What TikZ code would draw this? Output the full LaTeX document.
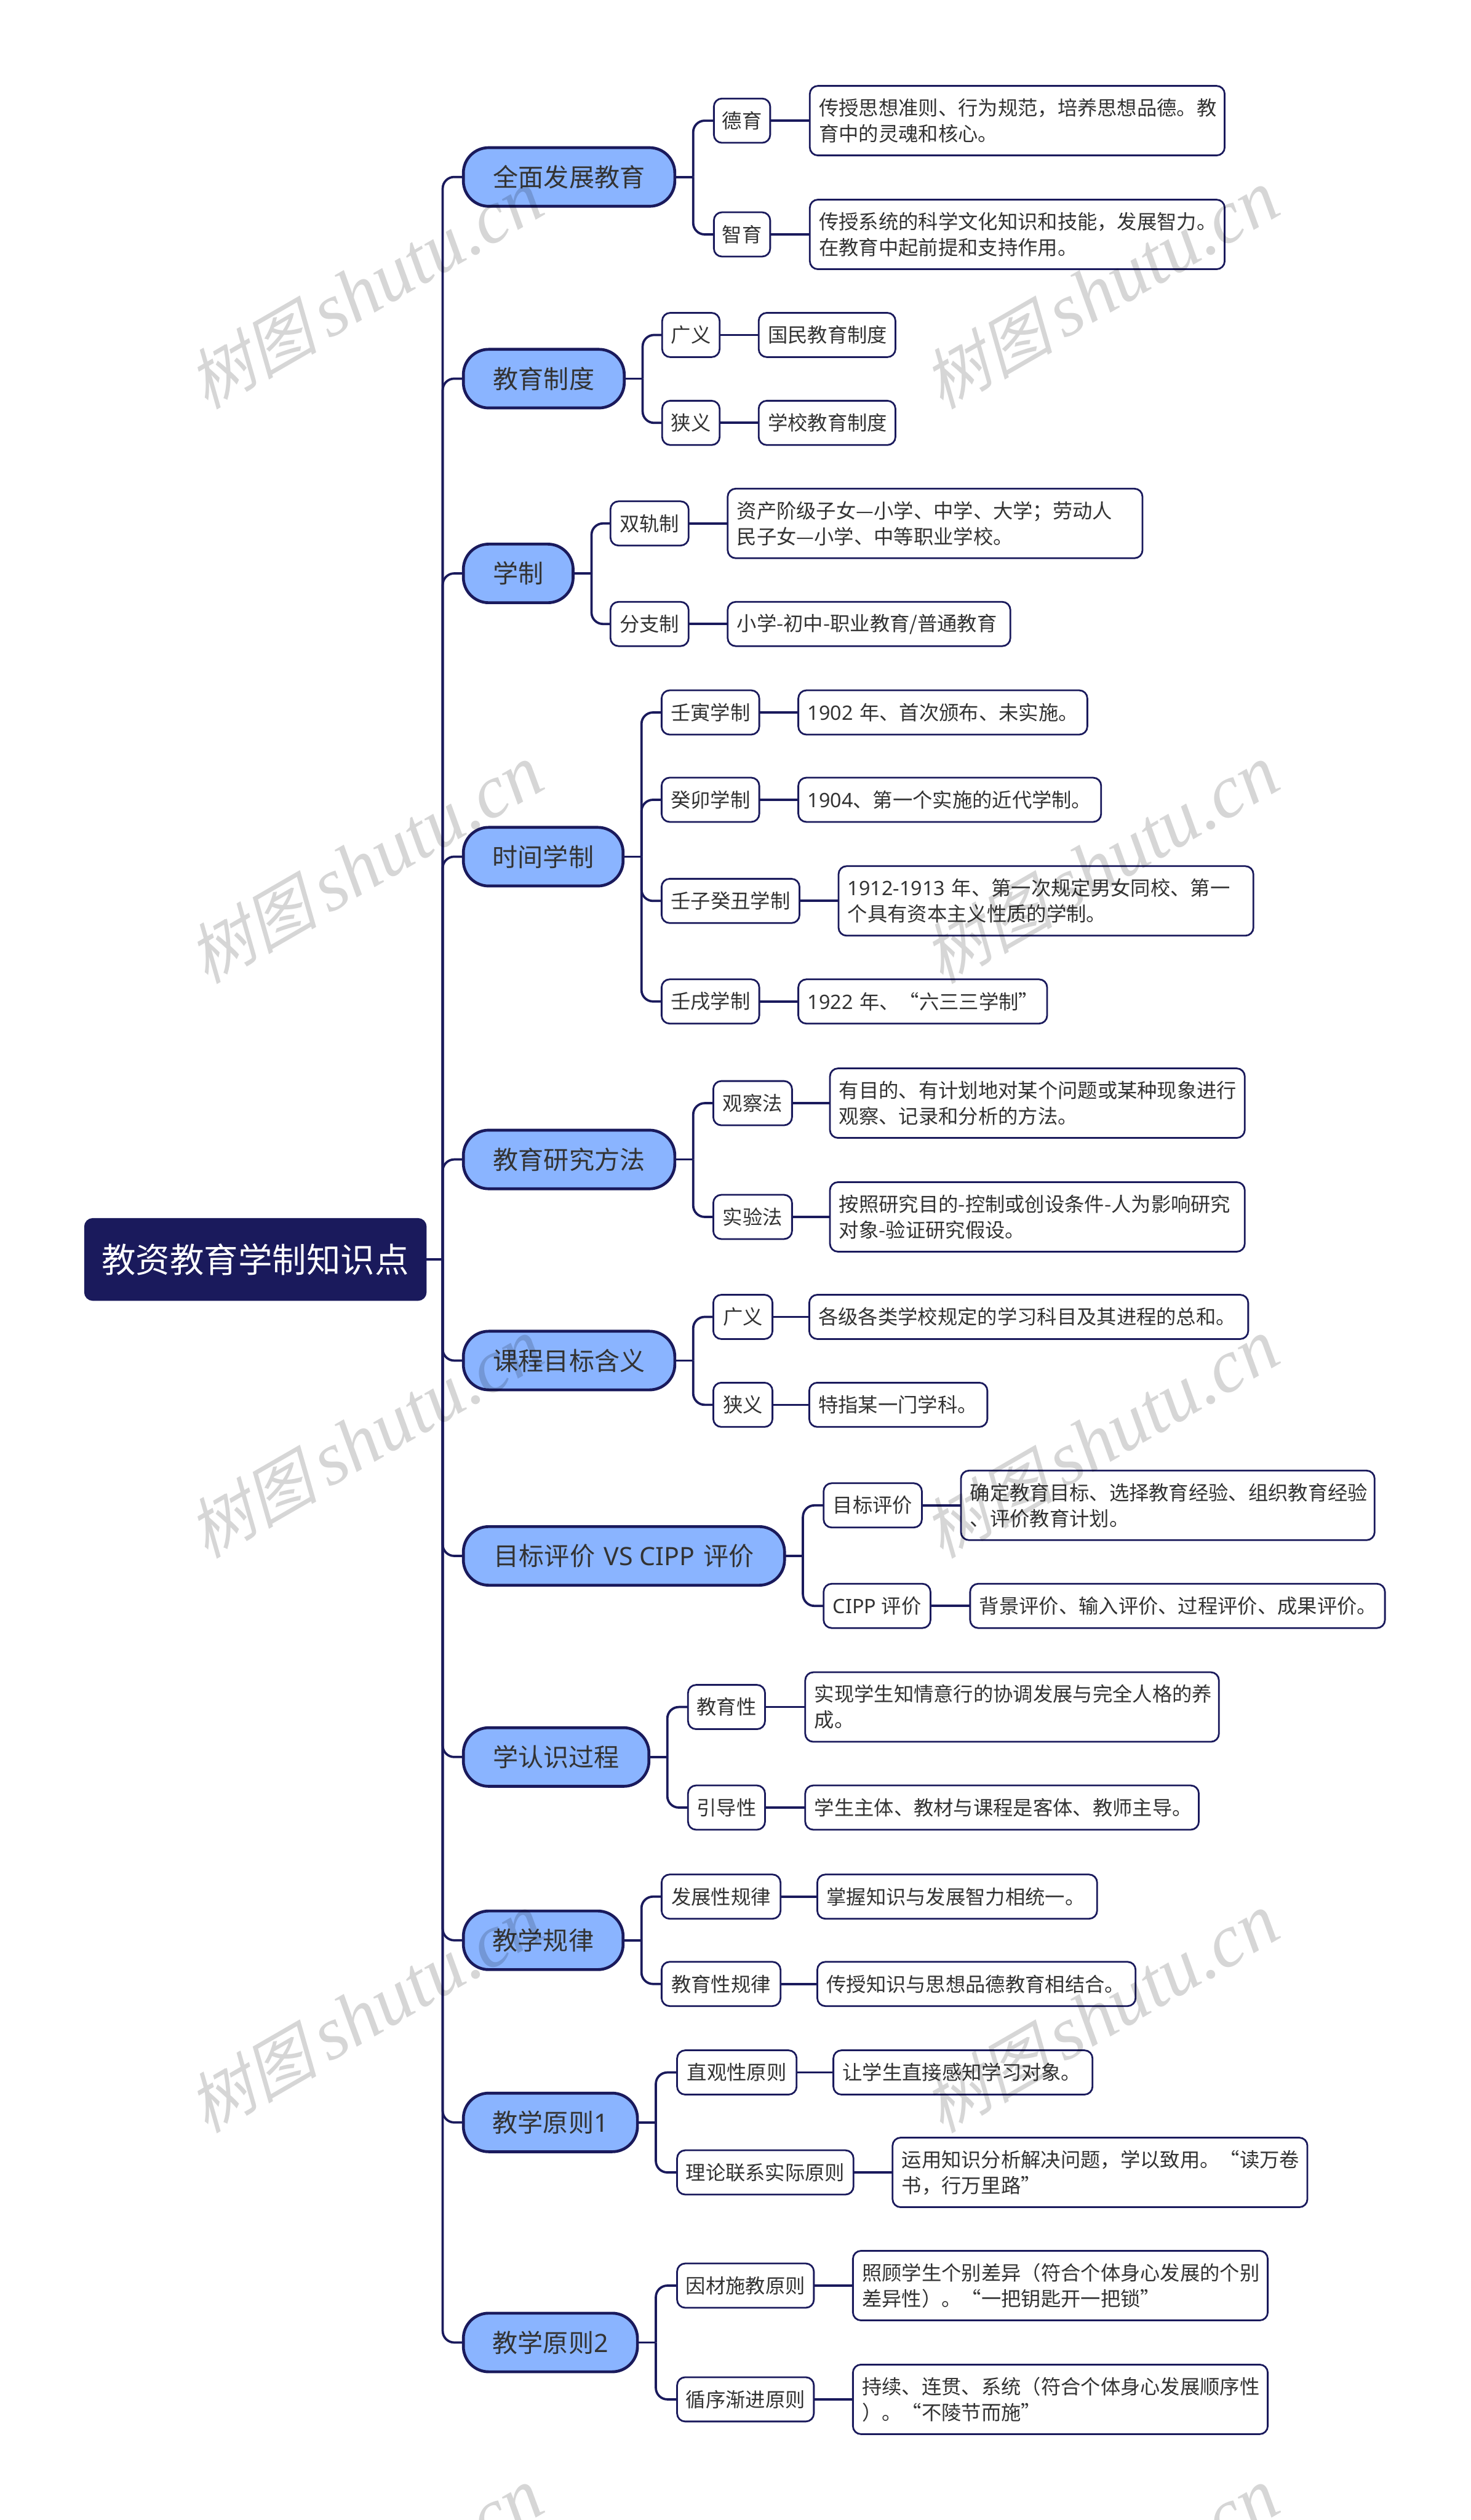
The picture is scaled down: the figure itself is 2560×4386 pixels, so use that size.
\documentclass[tikz,border=0pt]{standalone}
\usepackage{fontspec}
\setmainfont{Noto Sans CJK SC}
\newfontfamily\lat{Noto Sans}
\newfontfamily\wmcjk[FakeSlant=0.25]{Noto Sans CJK SC}
\newfontfamily\wmlat{Liberation Serif}
\definecolor{navy}{HTML}{1A1A5C}
\definecolor{pillblue}{HTML}{8AB4FF}
\definecolor{ink}{HTML}{333333}
\newcommand\qcomma{\char"FF0C\relax}
\newcommand\qsemi{\char"FF1B\relax}
\newcommand\qopen{\char"FF08\relax}
\newcommand\qclose{\char"FF09\relax}
\tikzset{
  rootbox/.style={draw=navy,fill=navy,line width=1pt,rounded corners=7pt,text=white,inner sep=0pt,outer sep=0pt,minimum height=71pt,font=\fontsize{29.7}{36}\selectfont},
  pillbox/.style={draw=navy,fill=pillblue,line width=2.5pt,rounded corners=22pt,text=ink,inner sep=0pt,outer sep=0pt,minimum height=51pt,font=\fontsize{22}{28}\selectfont},
  midbox/.style={draw=navy,fill=white,line width=1.5pt,rounded corners=7pt,text=ink,inner sep=0pt,outer sep=0pt,minimum height=38.5pt,font=\fontsize{17.3}{22.5}\selectfont},
  leafbox/.style={draw=navy,fill=white,line width=1.5pt,rounded corners=7pt,text=ink,inner xsep=8pt,inner ysep=0pt,outer sep=0pt,minimum height=38.5pt,align=left,font=\fontsize{17.3}{22.5}\selectfont},
  leaftall/.style={leafbox,minimum height=60.5pt},
  conn/.style={draw=navy,line width=2pt},
  connbend/.style={conn,rounded corners=10pt},
  watermark/.style={anchor=base west,rotate=30,inner sep=0pt,text=black,text opacity=0.16},
}
\newcommand\mk[6]{% style, name, xl, xr, cy, text
  \pgfmathsetmacro\mW{(#4-#3)*0.5-1.5}
  \pgfmathsetmacro\mX{(#3+#4)/2}
  \node[#1,minimum width=\mW pt] (#2) at (\mX,#5) {#6};
}
\newcommand\lf[6]{% style, name, xl, xr, cy, text
  \pgfmathsetmacro\mW{(#4-#3)*0.5-1.5-16}
  \pgfmathsetmacro\mX{(#3+#4)/2}
  \node[#1,text width=\mW pt] (#2) at (\mX,#5) {#6};
}
\newcommand\stem[1]{%
  \path (#1.east) ++(32,0) coordinate (#1-s);
  \draw[conn] (#1.east) -- (#1-s);
}
\newcommand\kid[2]{\draw[connbend] (#1-s) |- (#2.west);}
\newcommand\tip[2]{\draw[conn] (#1.east) -- (#2.west);}
\newcommand\wm[3]{\node[watermark] (#1) at (#2,#3) {{\fontsize{57}{60}\selectfont\wmcjk 树图}\hspace{9.6pt}{\fontsize{65.5}{70}\selectfont\wmlat\itshape shutu.cn}};}
\begin{document}
\begin{tikzpicture}[x=0.5pt,y=-0.5pt]
\useasboundingbox (0,0) rectangle (2560,4386);
\fill[white] (0,0) rectangle (2560,4386);

\mk{rootbox}{root}{146}{743}{2192}{教资教育学制知识点}

% branch pills
\mk{pillbox}{a}{805}{1176}{308}{全面发展教育}
\mk{pillbox}{b}{805}{1088}{659}{教育制度}
\mk{pillbox}{c}{805}{999}{998}{学制}
\mk{pillbox}{d}{805}{1086}{1491}{时间学制}
\mk{pillbox}{e}{805}{1176}{2018}{教育研究方法}
\mk{pillbox}{f}{805}{1176}{2368}{课程目标含义}
\mk{pillbox}{g}{805}{1367}{2708}{目标评价{\lat\hspace{2pt}~VS CIPP~\hspace{2pt}}评价}
\mk{pillbox}{h}{805}{1131}{3058}{学认识过程}
\mk{pillbox}{i}{805}{1086}{3377}{教学规律}
\mk{pillbox}{j}{805}{1111}{3694}{教学原则{\lat 1}}
\mk{pillbox}{k}{805}{1111}{4077}{教学原则{\lat 2}}

% a
\mk{midbox}{a1}{1241}{1342}{210}{德育}
\lf{leaftall}{a1t}{1408}{2133}{210}{传授思想准则、行为规范\qcomma 培养思想品德。教\\育中的灵魂和核心。}
\mk{midbox}{a2}{1241}{1342}{408}{智育}
\lf{leaftall}{a2t}{1408}{2133}{408}{传授系统的科学文化知识和技能\qcomma 发展智力。\\在教育中起前提和支持作用。}
% b
\mk{midbox}{b1}{1151}{1254}{583}{广义}
\lf{leafbox}{b1t}{1319}{1560}{583}{国民教育制度}
\mk{midbox}{b2}{1151}{1254}{736}{狭义}
\lf{leafbox}{b2t}{1319}{1560}{736}{学校教育制度}
% c
\mk{midbox}{c1}{1061}{1200}{911}{双轨制}
\lf{leaftall}{c1t}{1265}{1990}{911}{资产阶级子女—小学、中学、大学\qsemi 劳动人\\民子女—小学、中等职业学校。}
\mk{midbox}{c2}{1061}{1200}{1086}{分支制}
\lf{leafbox}{c2t}{1265}{1760}{1086}{小学-初中-职业教育/普通教育}
% d
\mk{midbox}{d1}{1150}{1323}{1240}{壬寅学制}
\lf{leafbox}{d1t}{1388}{1894}{1240}{{\lat 1902~}年、首次颁布、未实施。}
\mk{midbox}{d2}{1150}{1323}{1392}{癸卯学制}
\lf{leafbox}{d2t}{1388}{1918}{1392}{{\lat 1904}、第一个实施的近代学制。}
\mk{midbox}{d3}{1150}{1393}{1568}{壬子癸丑学制}
\lf{leaftall}{d3t}{1458}{2183}{1568}{{\lat 1912-1913~}年、第一次规定男女同校、第一\\个具有资本主义性质的学制。}
\mk{midbox}{d4}{1150}{1323}{1743}{壬戌学制}
\lf{leafbox}{d4t}{1388}{1824}{1743}{{\lat 1922~}年、“六三三学制”}
% e
\mk{midbox}{e1}{1240}{1380}{1920}{观察法}
\lf{leaftall}{e1t}{1443}{2168}{1920}{有目的、有计划地对某个问题或某种现象进行\\观察、记录和分析的方法。}
\mk{midbox}{e2}{1240}{1380}{2118}{实验法}
\lf{leaftall}{e2t}{1443}{2168}{2118}{按照研究目的-控制或创设条件-人为影响研究\\对象-验证研究假设。}
% f
\mk{midbox}{f1}{1240}{1346}{2292}{广义}
\lf{leafbox}{f1t}{1407}{2174}{2292}{各级各类学校规定的学习科目及其进程的总和。}
\mk{midbox}{f2}{1240}{1346}{2445}{狭义}
\lf{leafbox}{f2t}{1407}{1720}{2445}{特指某一门学科。}
% g
\mk{midbox}{g1}{1432}{1606}{2620}{目标评价}
\lf{leaftall}{g1t}{1671}{2394}{2620}{确定教育目标、选择教育经验、组织教育经验\\、评价教育计划。}
\mk{midbox}{g2}{1432}{1621}{2795}{{\lat CIPP~}评价}
\lf{leafbox}{g2t}{1687}{2412}{2795}{背景评价、输入评价、过程评价、成果评价。}
% h
\mk{midbox}{h1}{1196}{1333}{2971}{教育性}
\lf{leaftall}{h1t}{1400}{2123}{2971}{实现学生知情意行的协调发展与完全人格的养\\成。}
\mk{midbox}{h2}{1196}{1333}{3146}{引导性}
\lf{leafbox}{h2t}{1400}{2088}{3146}{学生主体、教材与课程是客体、教师主导。}
% i
\mk{midbox}{i1}{1150}{1360}{3301}{发展性规律}
\lf{leafbox}{i1t}{1421}{1911}{3301}{掌握知识与发展智力相统一。}
\mk{midbox}{i2}{1150}{1360}{3453}{教育性规律}
\lf{leafbox}{i2t}{1421}{1978}{3453}{传授知识与思想品德教育相结合。}
% j
\mk{midbox}{j1}{1177}{1388}{3607}{直观性原则}
\lf{leafbox}{j1t}{1449}{1903}{3607}{让学生直接感知学习对象。}
\mk{midbox}{j2}{1177}{1487}{3781}{理论联系实际原则}
\lf{leaftall}{j2t}{1552}{2277}{3781}{运用知识分析解决问题\qcomma 学以致用。“读万卷\\书\qcomma 行万里路”}
% k
\mk{midbox}{k1}{1177}{1418}{3978}{因材施教原则}
\lf{leaftall}{k1t}{1483}{2208}{3978}{照顾学生个别差异\qopen 符合个体身心发展的个别\\差异性\qclose 。“一把钥匙开一把锁”}
\mk{midbox}{k2}{1177}{1418}{4176}{循序渐进原则}
\lf{leaftall}{k2t}{1483}{2208}{4176}{持续、连贯、系统\qopen 符合个体身心发展顺序性\\\qclose 。“不陵节而施”}

% connectors
\path (root.east) ++(29,0) coordinate (root-s);
\draw[conn] (root.east) -- (root-s);
\foreach \p in {a,b,c,d,e,f,g,h,i,j,k}{\kid{root}{\p}}
\foreach \p/\kids in {a/{a1,a2},b/{b1,b2},c/{c1,c2},d/{d1,d2,d3,d4},e/{e1,e2},f/{f1,f2},g/{g1,g2},h/{h1,h2},i/{i1,i2},j/{j1,j2},k/{k1,k2}}{
  \stem{\p}
  \foreach \q in \kids {\kid{\p}{\q}\tip{\q}{\q t}}
}

% watermarks
\foreach \cl/\xx in {0/359,1/1639}{
  \foreach \rw/\yy in {0/714,1/1714,2/2714,3/3714,4/4714}{
    \wm{wm\cl\rw}{\xx}{\yy}
  }
}
\end{tikzpicture}
\end{document}
